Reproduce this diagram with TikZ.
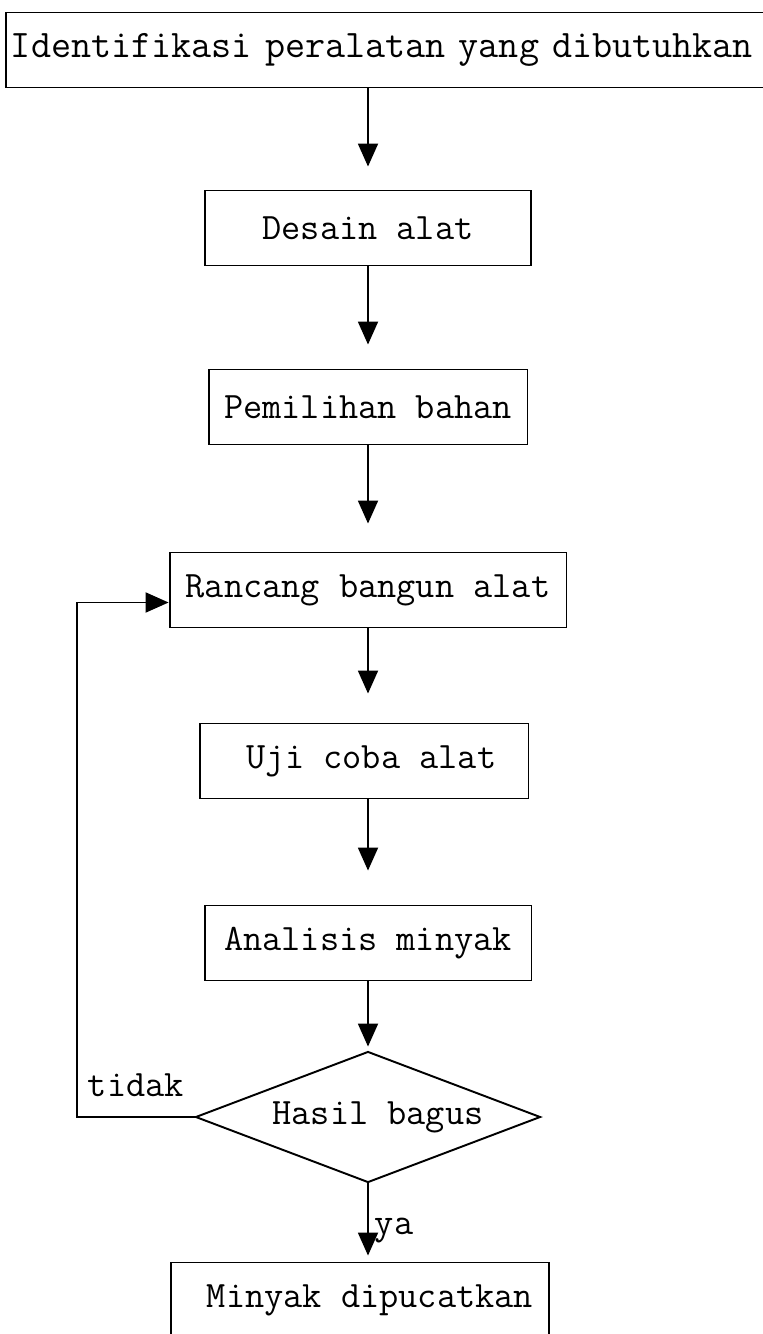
\documentclass[tikz,border=0pt]{standalone}
\usepackage{fontspec}
\usetikzlibrary{arrows.meta}
\usetikzlibrary{shapes.geometric}

\tikzset{
  kotak/.style={draw, line width=1.1pt, minimum height=1.5cm, inner sep=0pt},
  cek/.style={draw, diamond, aspect=2.5, line width=1.1pt, minimum width=6.9cm, minimum height=2.62cm, inner sep=0pt},
  flow/.style={line width=1.1pt, -{Triangle[length=0.46cm,width=0.4cm]}}
}

\begin{document}
\begin{tikzpicture}[x=0.02cm, y=-0.02cm, font=\ttfamily\fontsize{21.2}{24}\selectfont]
	\useasboundingbox[fill=white] (0,0) rectangle (763,1334);
	% langkah-langkah
	\node[kotak, anchor=west, text width=15.2cm, inner xsep=0.1cm, align=left, font=\ttfamily\fontsize{22.2}{25}\selectfont] (ident) at (5,50) {Identifikasi peralatan yang dibutuhkan};
	\node[kotak, minimum width=6.52cm] (desain) at (368,228) {Desain alat};
	\node[kotak, minimum width=6.38cm] (pilih) at (368,407) {Pemilihan bahan};
	\node[kotak, minimum width=7.94cm] (rancang) at (368,590) {Rancang bangun alat};
	\node[kotak, minimum width=6.58cm] (uji) at (364,761) {\hspace{0.3cm}Uji coba alat};
	\node[kotak, minimum width=6.54cm] (analisis) at (368,943) {Analisis minyak};
	\node[cek] (hasil) at (368,1117) {\hspace{0.4cm}Hasil bagus};
	\node[kotak, minimum width=7.56cm] (minyak) at (360,1300) {\hspace{0.4cm}Minyak dipucatkan};
	\coordinate (balik) at (77,1117);
	% panah
	\draw[flow, shorten >=0.46cm] (ident.south -| desain.north) -- (desain.north);
	\draw[flow, shorten >=0.48cm] (desain.south) -- (pilih.north);
	\draw[flow, shorten >=0.56cm] (pilih.south) -- (rancang.north);
	\draw[flow, shorten >=0.58cm] (rancang.south) -- (rancang.south |- uji.north);
	\draw[flow, shorten >=0.68cm] (uji.south -| analisis.north) -- (analisis.north);
	\draw[flow, shorten >=0.08cm] (analisis.south) -- (hasil.north);
	\draw[flow, shorten >=0.12cm] (hasil.south) -- node[right, pos=0.6] {ya} (hasil.south |- minyak.north);
	\draw[flow] (hasil.west) -- node[yshift=0.64cm] {tidak} (balik) |- ([yshift=-0.25cm]rancang.west);
\end{tikzpicture}
\end{document}
